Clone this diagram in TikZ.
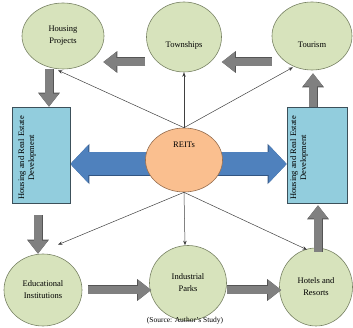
\documentclass[tikz,border=0pt]{standalone}
\usepackage{fontspec}
\setmainfont{Liberation Serif}
\usetikzlibrary{shapes.geometric,arrows.meta,calc,backgrounds}
\definecolor{ovalgreen}{RGB}{215,227,188}
\definecolor{ovalline}{RGB}{120,130,100}
\definecolor{hubfill}{RGB}{250,191,143}
\definecolor{hubline}{RGB}{150,110,80}
\definecolor{boxfill}{RGB}{146,205,221}
\definecolor{boxline}{RGB}{60,80,90}
\definecolor{bluearrow}{RGB}{79,129,189}
\definecolor{blueline}{RGB}{50,85,130}
\definecolor{grayarrow}{RGB}{128,128,128}
\definecolor{grayline}{RGB}{85,85,85}
\tikzset{
  oval/.style={ellipse,draw=ovalline,fill=ovalgreen,line width=0.6pt,inner sep=0pt,align=center,font=\fontsize{8.5}{12}\selectfont},
  hub/.style={ellipse,draw=hubline,fill=hubfill,line width=0.6pt,inner sep=0pt,font=\fontsize{8.5}{12}\selectfont},
  devbox/.style={rectangle,draw=boxline,fill=boxfill,line width=0.6pt,minimum width=58pt,minimum height=96pt},
  devtext/.style={rotate=90,align=center,inner sep=0pt,font=\fontsize{8.5}{10}\selectfont},
  link/.style={draw=black!75,line width=0.5pt,-{Stealth[length=4.5pt,width=3.5pt]}},
  fatgray/.style={draw=grayarrow,line width=8pt,-{Triangle[width=19pt,length=13pt]},
    preaction={draw=grayline,line width=9pt,-{Triangle[width=21pt,length=14pt]}}},
  fatblue/.style={draw=bluearrow,line width=23pt,-{Triangle[width=37pt,length=18pt]},
    preaction={draw=blueline,line width=24pt,-{Triangle[width=39pt,length=19pt]}}}
}
\begin{document}
\begin{tikzpicture}[x=1pt,y=-1pt]
\useasboundingbox (0,0) rectangle (353,328);

\node[oval,minimum width=82,minimum height=66] (hp) at (63,36) {Housing\\Projects};
\node[oval,minimum width=75,minimum height=70] (town) at (184,37) {\raisebox{-11pt}[0pt][0pt]{Townships}};
\node[oval,minimum width=80,minimum height=68] (tour) at (312,36) {\raisebox{-12pt}[0pt][0pt]{Tourism}};
\node[hub,minimum width=77,minimum height=64] (reits) at (184,160) {\raisebox{12pt}[0pt][0pt]{REITs}};
\node[oval,minimum width=78,minimum height=72] (edu) at (43,290) {Educational\\Institutions};
\node[oval,minimum width=77,minimum height=75] (ind) at (188,283) {Industrial\\Parks};
\node[oval,minimum width=73,minimum height=78] (hot) at (316,287) {Hotels and\\Resorts};

\node[devbox] (lrect) at (41,155) {};
\node[devbox,minimum width=60pt] (rrect) at (317,155) {};
\node[devtext] (ltext) at (27,158) {Housing and Real Estate\\Development};
\node[devtext] (rtext) at (299,158) {Housing and Real Estate\\Development};

\node[font=\fontsize{7.5}{9}\selectfont,inner sep=0pt] (source) at (185,321) {(Source: Author's Study)};

\begin{scope}[on background layer]
\draw[fatblue] ($(reits.center)+(0,4)$) -- ($(lrect.east)+(0,9)$);
\draw[fatblue] ($(reits.center)+(0,4)$) -- ($(rrect.west)+(0,9)$);
\end{scope}

\draw[link] (reits.north) -- ($(hp.south)+(-5,1)$);
\draw[link] (reits.north) -- (town.south);
\draw[link] (reits.north) -- ($(tour.south)+(-19,-3)$);
\draw[link] (reits.south) -- ($(edu.north)+(15,-9)$);
\draw[link] (reits.south) -- ($(ind.north)+(-3,0)$);
\draw[link] (reits.south) -- ($(hot.north)+(-9,2)$);

\draw[fatgray] ($(town.west)+(-1,25)$) -- ($(hp.east)+(-1,26)$);
\draw[fatgray] ($(tour.west)+(0,26)$) -- ($(town.east)+(0,25)$);
\draw[fatgray] ($(hp.south)+(-14,0)$) -- ($(lrect.north)+(8,0)$);
\draw[fatgray] ($(lrect.south)+(-3,12)$) -- ($(edu.north)+(-5,0)$);
\draw[fatgray] ($(edu.east)+(6,0)$) -- ($(ind.west)+(2,7)$);
\draw[fatgray] ($(ind.east)+(0,7)$) -- ($(hot.west)+(2,3)$);
\draw[fatgray] ($(hot.north)+(2,4)$) -- ($(rrect.south)+(1,2)$);
\draw[fatgray] ($(rrect.north)+(-4,0)$) -- ($(tour.south)+(1,3)$);
\end{tikzpicture}
\end{document}
